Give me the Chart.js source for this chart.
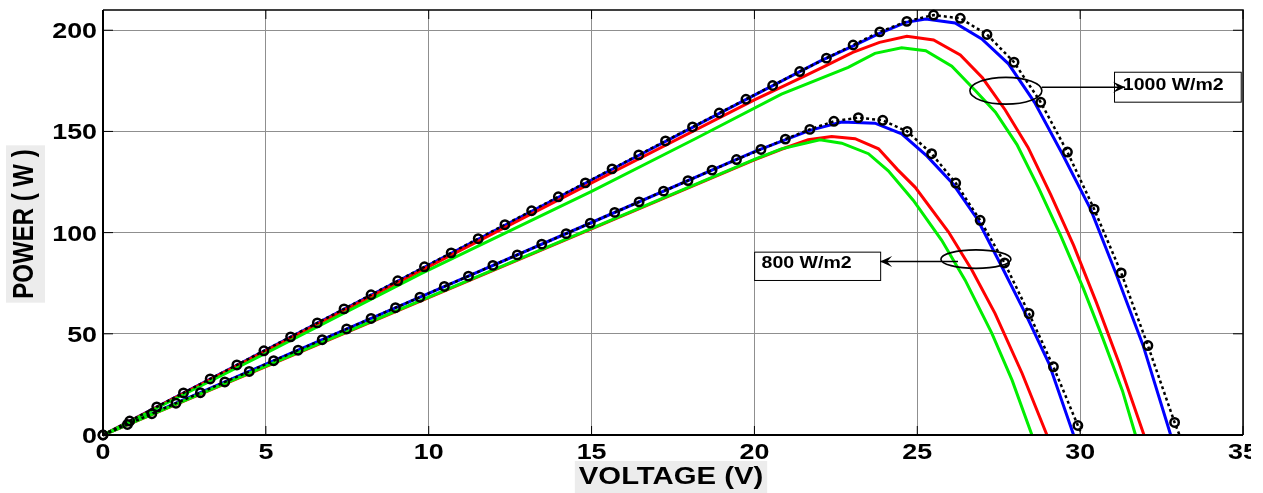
<!DOCTYPE html>
<html>
<head>
<meta charset="utf-8">
<title>P-V curves</title>
<script src="https://cdn.jsdelivr.net/npm/chart.js@4"></script>
<style>
  html, body { margin: 0; padding: 0; background: #fff; }
  #wrap { width: 1263px; height: 493px; }
</style>
</head>
<body>
<div id="wrap"><canvas id="pvChart" width="1263" height="493"></canvas></div>
<script>
/* ── Data ── */
const X_TICKS = [0, 5, 10, 15, 20, 25, 30, 35];
const Y_TICKS = [0, 50, 100, 150, 200];

// 1000 W/m2
const V_REF_1000 = [0, 0.82, 1.65, 2.47, 3.29, 4.11, 4.94, 5.76, 6.58, 7.40, 8.23, 9.05, 9.87, 10.69, 11.52, 12.34, 13.16, 13.98, 14.81, 15.63, 16.45, 17.27, 18.10, 18.92, 19.74, 20.56, 21.39, 22.21, 23.03, 23.85, 24.68, 25.50, 26.32, 27.14, 27.97, 28.79, 29.61, 30.43, 31.26, 32.08, 32.90, 33.05];
const P_REF_1000 = [0, 6.9, 13.9, 20.8, 27.7, 34.6, 41.6, 48.5, 55.4, 62.3, 69.3, 76.2, 83.1, 90.0, 97.0, 103.9, 110.8, 117.7, 124.6, 131.5, 138.4, 145.3, 152.2, 159.1, 165.9, 172.7, 179.6, 186.2, 192.7, 199.2, 204.4, 207.5, 205.9, 197.9, 184.2, 164.4, 139.8, 111.6, 80.1, 44.2, 6.2, 0];

const V_BLUE_1000 = [0, 5, 10, 15, 20, 22, 23.02, 23.84, 24.65, 25.26, 26.16, 26.98, 27.8, 28.6, 29.45, 30.32, 31.1, 31.93, 32.78];
const P_BLUE_1000 = [0, 42.0, 84.0, 126.0, 167.9, 184.6, 192.2, 198.4, 203.9, 205.6, 203.6, 195.7, 183.4, 164.4, 139.0, 111.6, 79.8, 44.4, 0];

const V_RED_1000 = [0, 5, 10, 15, 20, 21.36, 22.2, 23.02, 23.84, 24.68, 25.5, 26.32, 27.0, 27.7, 28.4, 29.1, 29.8, 30.5, 31.2, 31.96];
const P_RED_1000 = [0, 41.6, 83.2, 124.5, 165.6, 176.0, 182.5, 189.1, 194.0, 197.0, 195.2, 187.8, 176.5, 160.6, 142.1, 118.6, 93.7, 65.4, 35.3, 0];

const V_GREEN_1000 = [0, 5, 9.75, 15, 18.2, 20.83, 22.88, 23.7, 24.52, 25.26, 26.06, 26.78, 27.4, 28.06, 28.72, 29.4, 30.1, 30.7, 31.3, 31.7];
const P_GREEN_1000 = [0, 40.4, 79.6, 120.4, 146.5, 168.4, 181.7, 188.6, 191.3, 189.9, 182.2, 170.2, 159.5, 143.5, 122.2, 98.6, 72.3, 47.6, 21.8, 0];

// 800 W/m2
const V_REF_800 = [0, 0.75, 1.50, 2.24, 2.99, 3.74, 4.49, 5.24, 5.99, 6.73, 7.48, 8.23, 8.98, 9.73, 10.48, 11.22, 11.97, 12.72, 13.47, 14.22, 14.96, 15.71, 16.46, 17.21, 17.96, 18.70, 19.45, 20.20, 20.95, 21.70, 22.44, 23.19, 23.94, 24.69, 25.44, 26.18, 26.93, 27.68, 28.43, 29.18, 29.93, 30.05];
const P_REF_800 = [0, 5.2, 10.5, 15.7, 20.9, 26.2, 31.4, 36.7, 41.9, 47.1, 52.4, 57.6, 62.9, 68.1, 73.4, 78.5, 83.8, 89.0, 94.3, 99.5, 104.7, 110.0, 115.2, 120.5, 125.7, 130.9, 136.1, 141.1, 146.2, 151.0, 155.0, 156.8, 155.5, 150.0, 139.0, 124.5, 106.1, 85.0, 60.0, 33.7, 4.7, 0];

const V_BLUE_800 = [0, 5, 10, 15, 20, 21.7, 22.68, 23.7, 24.52, 25.3, 26.1, 26.85, 27.6, 28.32, 29.04, 29.8];
const P_BLUE_800 = [0, 35.0, 70.0, 105.0, 140.0, 150.5, 154.6, 154.1, 148.8, 137.8, 124.0, 106.5, 83.0, 60.0, 35.4, 0];

const V_RED_800 = [0, 5, 10, 15, 20, 20.83, 21.65, 22.37, 23.09, 23.81, 24.4, 24.93, 25.96, 26.68, 27.39, 28.22, 28.98];
const P_RED_800 = [0, 33.8, 67.9, 101.9, 135.9, 141.2, 145.9, 147.5, 146.4, 141.4, 131.0, 122.5, 100.3, 81.4, 60.0, 30.4, 0];

const V_GREEN_800 = [0, 5, 10, 15, 20, 20.83, 22.01, 22.68, 23.5, 24.11, 24.88, 25.75, 26.47, 27.29, 27.91, 28.52];
const P_GREEN_800 = [0, 34.0, 68.1, 102.1, 136.2, 141.4, 145.9, 144.2, 139.0, 130.5, 115.9, 96.2, 76.5, 50.2, 27.1, 0];

/* ── Styles ── */
const FONT = 'Arial, "Liberation Sans", sans-serif';
const TEXT_SX = 1.22;          // the source figure is stretched horizontally
const GRID = '#8f8f8f';

// annotation callouts, in data units
const CALLOUTS = [
  { text: '1000 W/m2', ell: [27.72, 170.1, 1.105, 6.6], arrow: [28.82, 171.8, 31.38, 171.8],
    box: [31.04, 179.5, 34.93, 164.7], textAt: [31.31, 172.7] },
  { text: '800 W/m2', ell: [26.80, 86.9, 1.075, 4.55], arrow: [26.25, 85.7, 23.86, 85.7],
    box: [19.99, 90.6, 23.86, 76.6], textAt: [20.22, 84.5] },
];

function pairs(vs, ps) {
  return vs.map((v, i) => ({ x: v, y: ps[i] }));
}

function refSet(label, vs, ps) {
  return {
    label,
    data: pairs(vs, ps),
    borderColor: '#000',
    borderWidth: 2.5,
    borderDash: [3, 3],
    pointStyle: 'circle',
    pointRadius: c => (c.raw && c.raw.y === 0 && c.dataIndex > 0) ? 0 : 4.2,
    pointBorderWidth: 2.5,
    pointBorderColor: '#000',
    pointBackgroundColor: 'rgba(0,0,0,0)',
    tension: 0,
    clip: 10,
  };
}

function lineSet(label, vs, ps, color) {
  return {
    label,
    data: pairs(vs, ps),
    borderColor: color,
    borderWidth: 3,
    pointRadius: 0,
    tension: 0,
    clip: 4,
  };
}

/* ── Helpers ── */
function stretchedText(ctx, text, x, y, align, rotate) {
  ctx.save();
  ctx.translate(x, y);
  ctx.scale(TEXT_SX, 1);
  if (rotate) ctx.rotate(-Math.PI / 2);
  ctx.textAlign = align;
  ctx.textBaseline = 'middle';
  ctx.fillText(text, 0, 0);
  ctx.restore();
}

function arrowHead(ctx, x0, y0, x1, y1) {
  const a = Math.atan2(y1 - y0, x1 - x0);
  const len = 12, half = 5.5, notch = 7;
  ctx.save();
  ctx.translate(x1, y1);
  ctx.rotate(a);
  ctx.beginPath();
  ctx.moveTo(0, 0);
  ctx.lineTo(-len, -half);
  ctx.lineTo(-notch, 0);
  ctx.lineTo(-len, half);
  ctx.closePath();
  ctx.fill();
  ctx.restore();
}

const figureDecor = {
  id: 'figureDecor',
  beforeDraw(chart) {
    const { ctx } = chart;
    ctx.save();
    ctx.fillStyle = '#fff';
    ctx.fillRect(0, 0, chart.width, chart.height);

    // grey boxes behind the axis titles
    ctx.font = `bold 24px ${FONT}`;
    const wy = ctx.measureText('POWER ( W )').width;
    const wx = ctx.measureText('VOLTAGE (V)').width * TEXT_SX;
    ctx.fillStyle = '#ececec';
    ctx.fillRect(6, 224 - wy / 2 - 4, 39, wy + 8);
    ctx.fillRect(671 - wx / 2 - 4, 461, wx + 8, 32);
    ctx.restore();
  },
  afterDatasetsDraw(chart) {
    const { ctx, chartArea: a, scales: { x, y } } = chart;
    ctx.save();

    // frame
    ctx.strokeStyle = '#000';
    ctx.lineWidth = 2;
    ctx.beginPath();
    ctx.moveTo(a.left, a.top); ctx.lineTo(a.left, a.bottom); ctx.lineTo(a.right, a.bottom);
    ctx.stroke();
    ctx.lineWidth = 1.5;
    ctx.beginPath();
    ctx.moveTo(a.left, a.top); ctx.lineTo(a.right, a.top); ctx.lineTo(a.right, a.bottom);
    ctx.stroke();

    // inward ticks
    ctx.lineWidth = 1;
    ctx.beginPath();
    x.ticks.forEach(t => {
      const px = x.getPixelForValue(t.value);
      ctx.moveTo(px, a.bottom); ctx.lineTo(px, a.bottom - 9);
      ctx.moveTo(px, a.top); ctx.lineTo(px, a.top + 9);
    });
    y.ticks.forEach(t => {
      const py = y.getPixelForValue(t.value);
      ctx.moveTo(a.left, py); ctx.lineTo(a.left + 10, py);
      ctx.moveTo(a.right, py); ctx.lineTo(a.right - 10, py);
    });
    ctx.stroke();

    // tick labels (the source image is cropped just right of the last one)
    ctx.fillStyle = '#000';
    ctx.font = `bold 22px ${FONT}`;
    y.ticks.forEach(t => {
      stretchedText(ctx, String(t.value), a.left - 6, y.getPixelForValue(t.value) + 2, 'right');
    });
    ctx.save();
    ctx.beginPath();
    ctx.rect(0, a.bottom, a.right + 8, chart.height - a.bottom);
    ctx.clip();
    x.ticks.forEach(t => {
      stretchedText(ctx, String(t.value), x.getPixelForValue(t.value), a.bottom + 18, 'center');
    });
    ctx.restore();

    // axis titles
    ctx.font = `bold 24px ${FONT}`;
    stretchedText(ctx, 'POWER ( W )', 25, 224, 'center', true);
    stretchedText(ctx, 'VOLTAGE (V)', 671, 477, 'center');

    // callouts
    CALLOUTS.forEach(c => {
      const [ex, ey, erx, ery] = c.ell;
      const cx = x.getPixelForValue(ex), cy = y.getPixelForValue(ey);
      const rx = x.getPixelForValue(ex + erx) - cx, ry = cy - y.getPixelForValue(ey + ery);
      ctx.strokeStyle = '#000';
      ctx.lineWidth = 1.6;
      ctx.beginPath();
      ctx.ellipse(cx, cy, rx, ry, 0, 0, Math.PI * 2);
      ctx.stroke();

      const [bx0, by0, bx1, by1] = c.box;
      const l = x.getPixelForValue(bx0), r = x.getPixelForValue(bx1);
      const tp = y.getPixelForValue(by0), bt = y.getPixelForValue(by1);
      ctx.fillStyle = '#fff';
      ctx.fillRect(l, tp, r - l, bt - tp);
      ctx.lineWidth = 1;
      ctx.strokeRect(l + 0.5, tp + 0.5, r - l, bt - tp);

      const [ax0, ay0, ax1, ay1] = c.arrow;
      const p0x = x.getPixelForValue(ax0), p0y = y.getPixelForValue(ay0);
      const p1x = x.getPixelForValue(ax1), p1y = y.getPixelForValue(ay1);
      ctx.lineWidth = 1.6;
      ctx.beginPath();
      ctx.moveTo(p0x, p0y); ctx.lineTo(p1x, p1y);
      ctx.stroke();
      ctx.fillStyle = '#000';
      arrowHead(ctx, p0x, p0y, p1x, p1y);

      ctx.font = `bold 16px ${FONT}`;
      stretchedText(ctx, c.text, x.getPixelForValue(c.textAt[0]), y.getPixelForValue(c.textAt[1]), 'left');
    });

    ctx.restore();
  },
};

/* ── Chart ── */
const datasets = [
  refSet('Ref 1000', V_REF_1000, P_REF_1000),
  refSet('Ref 800', V_REF_800, P_REF_800),
  lineSet('Green 1000', V_GREEN_1000, P_GREEN_1000, '#00ee00'),
  lineSet('Green 800', V_GREEN_800, P_GREEN_800, '#00ee00'),
  lineSet('Red 1000', V_RED_1000, P_RED_1000, '#ff0000'),
  lineSet('Red 800', V_RED_800, P_RED_800, '#ff0000'),
  lineSet('Blue 1000', V_BLUE_1000, P_BLUE_1000, '#0000ff'),
  lineSet('Blue 800', V_BLUE_800, P_BLUE_800, '#0000ff'),
];

new Chart(document.getElementById('pvChart'), {
  type: 'line',
  data: { datasets },
  options: {
    responsive: false,
    animation: false,
    layout: { padding: { top: 10, right: 20, bottom: 0, left: 0 } },
    plugins: { legend: { display: false }, tooltip: { enabled: false } },
    scales: {
      x: {
        type: 'linear',
        min: X_TICKS[0],
        max: X_TICKS[X_TICKS.length - 1],
        afterBuildTicks: s => { s.ticks = X_TICKS.map(v => ({ value: v })); },
        afterFit: s => { s.height = 58; },
        ticks: { display: false },
        grid: { color: GRID, lineWidth: 1, drawTicks: false },
        border: { display: false },
      },
      y: {
        type: 'linear',
        min: 0,
        max: 210,
        afterBuildTicks: s => { s.ticks = Y_TICKS.map(v => ({ value: v })); },
        afterFit: s => { s.width = 103; },
        ticks: { display: false },
        grid: { color: GRID, lineWidth: 1, drawTicks: false },
        border: { display: false },
      },
    },
  },
  plugins: [figureDecor],
});
</script>
</body>
</html>
